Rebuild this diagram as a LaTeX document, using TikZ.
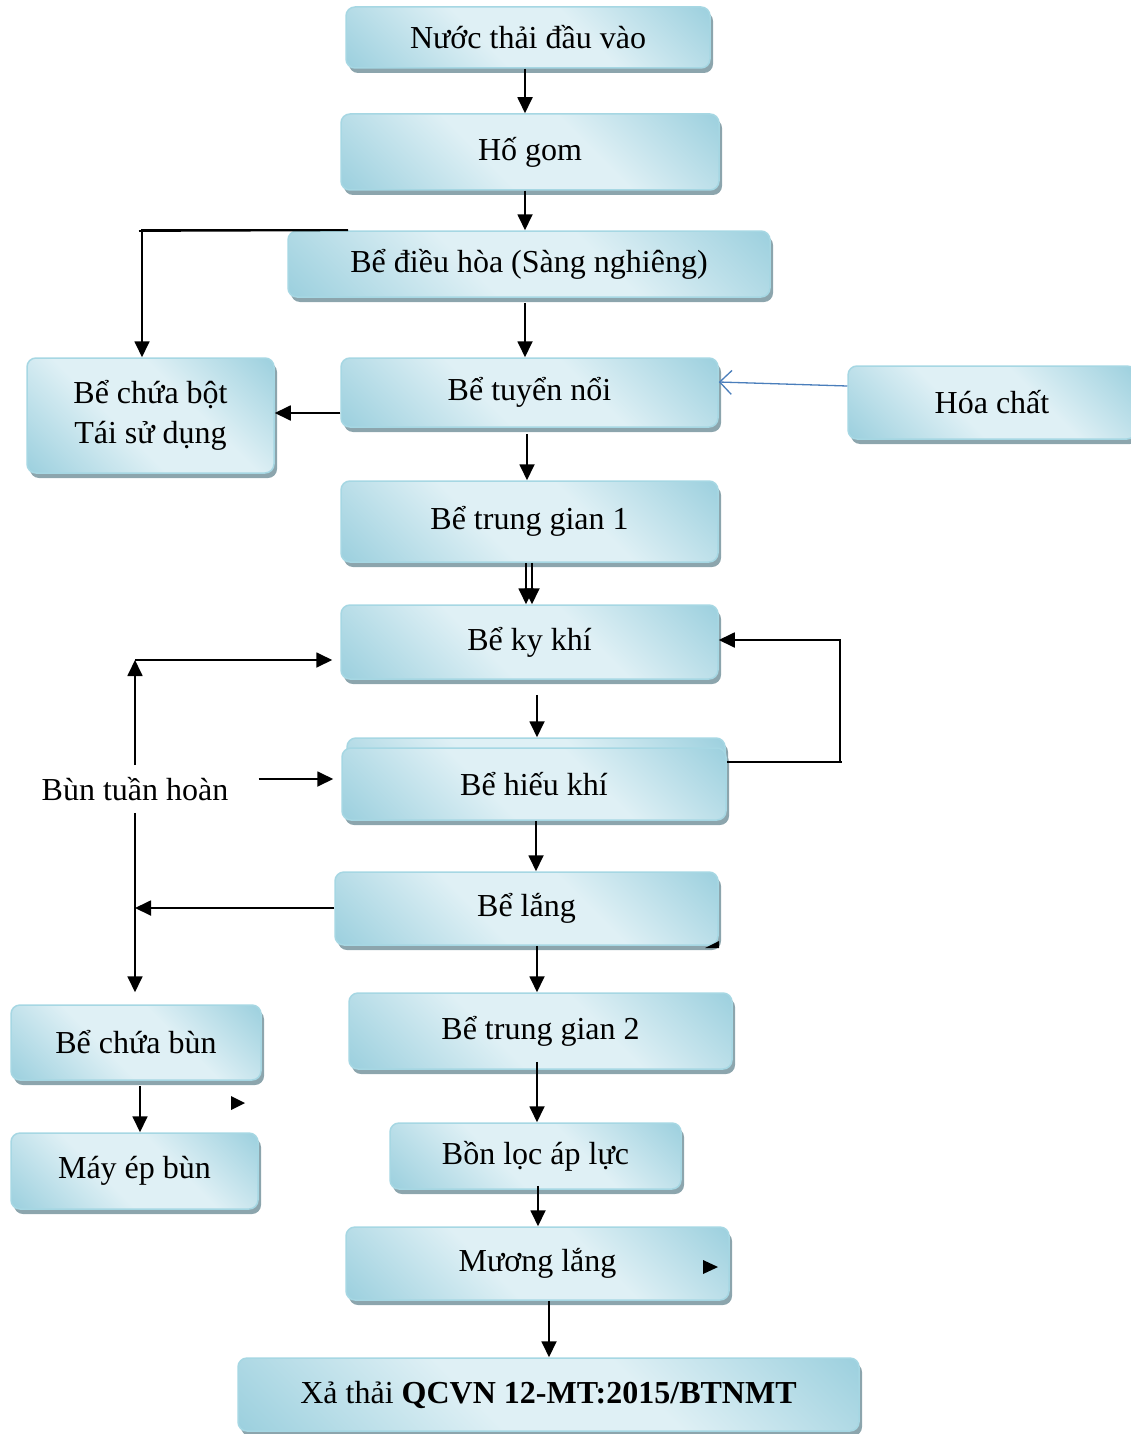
\documentclass[tikz,border=0pt]{standalone}
\usepackage{fontspec}
\setmainfont{Liberation Serif}
\usetikzlibrary{arrows.meta,shadows,calc}
\definecolor{bblue}{HTML}{90CADA}
\definecolor{blight}{HTML}{DFF0F5}
\definecolor{bedge}{HTML}{A6D7E3}
\definecolor{bshadow}{HTML}{8CA5AD}
\definecolor{feed}{HTML}{4A7EBB}
% diagonal reflected fill: blue at two opposite corners, light across the middle
\pgfdeclareverticalshading{wordfill}{100bp}{color(0bp)=(bblue); color(10bp)=(bblue);
  color(42bp)=(blight); color(60bp)=(blight); color(90bp)=(bblue); color(100bp)=(bblue)}
\begin{document}
\begin{tikzpicture}[x=1pt,y=-1pt,
  box/.style={draw=bedge, line width=1.5pt, rounded corners=9pt,
    shade, shading=wordfill, shading angle=-45,
    inner sep=0pt, align=center, font=\fontsize{32}{40}\selectfont,
    drop shadow={shadow xshift=3pt,shadow yshift=-5pt,fill=bshadow,opacity=1}},
  plain/.style={inner sep=0pt, font=\fontsize{32}{40}\selectfont},
  arr/.style={line width=1.8pt, -{Triangle[length=16pt,width=15pt]}},
  wire/.style={line width=1.8pt},
  feedarr/.style={draw=feed, line width=1.3pt, -{Straight Barb[length=12pt,width=24pt]}}]
\useasboundingbox (0,0) rectangle (1131,1434);

% process units
\node[box, minimum width=364pt, minimum height=61pt] (n1) at (528,37.5) {Nước thải đầu vào};
\node[box, minimum width=378pt, minimum height=76pt] (n2) at (530,152) {Hố gom};
\node[box, minimum width=482pt, minimum height=66pt] (n3) at (529,264) {Bể điều hòa (Sàng nghiêng)};
\node[box, minimum width=247pt, minimum height=115pt] (n4) at (150.5,415.5) {Bể chứa bột\\Tái sử dụng};
\node[box, minimum width=377pt, minimum height=69pt] (n5) at (529.5,392.5) {Bể tuyển nổi};
\node[box, minimum width=288pt, minimum height=73pt] (n6) at (992,402.5) {Hóa chất};
\node[box, minimum width=377pt, minimum height=81pt] (n7) at (529.5,521.5) {Bể trung gian 1};
\node[box, minimum width=377pt, minimum height=74pt] (n8) at (529.5,642) {Bể ky khí};
\node[box, minimum width=378pt, minimum height=72pt] (n9b) at (536,774) {};
\node[box, minimum width=384pt, minimum height=72pt] (n9) at (534,784) {Bể hiếu khí};
\node[box, minimum width=383pt, minimum height=73pt] (n10) at (526.5,908.5) {Bể lắng};
\node[box, minimum width=250pt, minimum height=75pt] (n11) at (136,1042.5) {Bể chứa bùn};
\node[box, minimum width=247pt, minimum height=76pt] (n12) at (134.5,1171) {Máy ép bùn};
\node[box, minimum width=383pt, minimum height=76pt] (n13) at (540.5,1031) {Bể trung gian 2};
\node[box, minimum width=291pt, minimum height=66pt] (n14) at (535.5,1156) {Bồn lọc áp lực};
\node[box, minimum width=383pt, minimum height=73pt] (n15) at (537.5,1263.5) {Mương lắng};
\node[box, minimum width=621pt, minimum height=73pt] (n16) at (548.5,1394.5) {Xả thải \textbf{QCVN 12-MT:2015/BTNMT}};
\node[plain] (bth) at (135,789) {Bùn tuần hoàn};

% main line
\draw[arr] (n1.south -| 525,0) -- (n2.north -| 525,0);
\draw[arr] (n2.south -| 525,0) -- (n3.north -| 525,0);
\draw[arr] ($(n3.south -| 525,0)+(0,5)$) -- (n5.north -| 525,0);
\draw[arr] ($(n5.south -| 527,0)+(0,6)$) -- (n7.north -| 527,0);
\draw[arr] (n7.south -| 526,0) -- (n8.north -| 526,0);
\draw[arr] (n7.south -| 532,0) -- (n8.north -| 532,0);
\draw[arr] ($(n8.south -| 537,0)+(0,15)$) -- (n9b.north -| 537,0);
\draw[arr] (n9.south -| 536,0) -- (n10.north -| 536,0);
\draw[arr] (n10.south -| 537,0) -- (n13.north -| 537,0);
\draw[arr] ($(n13.south -| 537,0)+(-0,-8)$) -- (n14.north -| 537,0);
\draw[arr] ($(n14.south -| 538,0)+(0,-4)$) -- (n15.north -| 538,0);
\draw[arr] (n15.south -| 549,0) -- (n16.north -| 549,0);

% foam line and chemical dosing
\draw[arr] (n3.north -| 348,0) -| (n4.north -| 142,0);
\draw[wire] (n3.north -| 348,0) -- (139,231);
\draw[arr] (n5.west |- 0,413) -- (n4.east |- 0,413);
\draw[feedarr] (n6.west |- 0,386) -- (n5.east |- 0,382);

% internal recycle
\draw[arr] (n9.east |- 0,762) -- (840,762) -- (840,640) -- (n8.east |- 0,640);
\draw[wire] (838,762) -- (842,762);

% sludge return and sludge line
\draw[arr] ($(bth.north -| 135,0)+(0,-12)$) -- (135,660);
\draw[arr] (135,660) -- ($(n8.west |- 0,660)+(-8,0)$);
\draw[arr] ($(bth.east)+(30,-10)$) -- ($(n9.west |- 0,779)+(-8,0)$);
\draw[arr] ($(bth.south -| 135,0)+(0,12)$) -- ($(n11.north -| 135,0)+(0,-12)$);
\draw[arr] (n10.west |- 0,908) -- (135,908);
\draw[arr] ($(n11.south -| 140,0)+(0,5)$) -- (n12.north -| 140,0);

% loose arrow tips
\fill (231,1096) -- (245,1103) -- (231,1110) -- cycle;
\fill (703,1260) -- (718,1267) -- (703,1274) -- cycle;
\fill (705,948) -- (719,941) -- (719,948) -- cycle;
\end{tikzpicture}
\end{document}
